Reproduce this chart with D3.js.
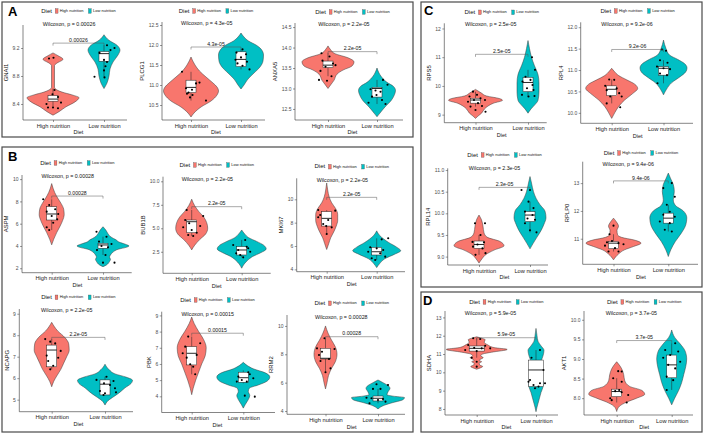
<!DOCTYPE html>
<html><head><meta charset="utf-8">
<script src="https://cdn.jsdelivr.net/npm/d3@7"></script>
<style>body{margin:0;background:#fff}svg{display:block}</style>
</head><body><svg id="c" width="708" height="436"></svg>
<script>
// ---------------- DATA ----------------
const groups = ["High nutrition", "Low nutrition"];
const colors = ["#F8766D", "#00BFC4"];
const legendTitle = "Diet";
const xTitle = "Diet";
const genes = ["GNAI1","PLCG1","ANXA5","ASPM","BUB1B","MKI67","NCAPG","PBK","RRM2","RPS5","RPL4","RPL14","RPLP0","SDHA","AKT1"];
const pValues = ["0.00026","4.3e-05","2.2e-05","0.00028","2.2e-05","2.2e-05","2.2e-05","0.00015","0.00028","2.5e-05","9.2e-06","2.3e-05","9.4e-06","5.9e-05","3.7e-05"];
const yTicks = [[8.4,8.8,9.2],[10.5,11,11.5,12,12.5],[12.5,13,13.5,14,14.5],[2,4,6,8,10],[2.5,5,7.5,10],[4,6,8,10],[5,6,7,8,9],[4,5,6,7,8,9],[4,6,8,10],[9,10,11,12],[10,10.5,11,11.5,12],[9,9.5,10,10.5,11],[11,12,13],[8,9,10,11,12,13],[8,8.5,9,9.5,10]];
const tickFormats = [".1f",".1f",".1f","d",".1f","d","d","d","d","d",".1f",".1f","d","d",".1f"];
const yDomains = [[8.171,9.529],[10.125,12.575],[12.23,14.6],[1.6,10.37],[0.21,10.49],[3.8,11.8],[4.44,9.22],[3.0,9.23],[3.77,10.77],[8.72,12.18],[9.755,12.115],[8.806,11.04],[10.08,13.77],[7.67,13.35],[7.571,10.224]];
const bracketValues = [9.27,11.95,13.9,8.48,7.3,10.17,7.9,7.9,9.24,11.1,11.48,10.6,13.08,11.89,9.47];

// violin density profiles: [value, half width] per group (High, Low)
const GNAI1_density = [
 [[8.24,0],[8.29,0.12],[8.36,0.26],[8.43,0.44],[8.49,0.52],[8.53,0.38],[8.57,0.18],[8.6,0.08],[8.64,0.03],[8.95,0.03],[8.98,0.07],[9.04,0.2],[9.09,0.1],[9.13,0]],
 [[8.62,0],[8.7,0.06],[8.8,0.1],[8.9,0.12],[9.0,0.18],[9.1,0.28],[9.17,0.32],[9.24,0.26],[9.31,0.1],[9.39,0]]];
const PLCG1_density = [
 [[10.2,0],[10.3,0.06],[10.45,0.2],[10.6,0.4],[10.75,0.52],[10.85,0.55],[10.95,0.52],[11.05,0.44],[11.2,0.3],[11.35,0.17],[11.5,0.08],[11.7,0]],
 [[10.9,0],[11.0,0.06],[11.15,0.14],[11.3,0.26],[11.45,0.38],[11.6,0.44],[11.75,0.45],[11.9,0.4],[12.0,0.3],[12.1,0.15],[12.2,0.06],[12.3,0]]];
const ANXA5_density = [
 [[13.0,0],[13.1,0.06],[13.2,0.12],[13.35,0.18],[13.45,0.3],[13.55,0.48],[13.65,0.52],[13.75,0.4],[13.85,0.14],[13.95,0.05],[14.04,0]],
 [[12.31,0],[12.4,0.06],[12.55,0.16],[12.7,0.28],[12.85,0.35],[12.95,0.37],[13.05,0.33],[13.15,0.2],[13.3,0.08],[13.5,0]]];
const ASPM_density = [
 [[4.1,0],[4.6,0.04],[5.2,0.1],[5.8,0.17],[6.3,0.22],[6.8,0.25],[7.3,0.24],[7.8,0.19],[8.3,0.12],[8.8,0.06],[9.6,0]],
 [[2.14,0],[2.3,0.07],[2.6,0.13],[2.8,0.15],[3.0,0.13],[3.2,0.15],[3.45,0.2],[3.7,0.3],[3.9,0.48],[4.0,0.52],[4.15,0.45],[4.35,0.32],[4.55,0.26],[4.8,0.16],[5.1,0.1],[5.4,0.06],[5.73,0]]];
const BUB1B_density = [
 [[2.7,0],[3.2,0.06],[3.8,0.16],[4.4,0.28],[5.0,0.32],[5.6,0.3],[6.2,0.24],[6.8,0.14],[7.4,0.06],[8.1,0]],
 [[0.75,0],[1.2,0.05],[1.6,0.12],[2.0,0.22],[2.4,0.38],[2.8,0.49],[3.2,0.44],[3.6,0.3],[4.0,0.14],[4.4,0.06],[4.82,0]]];
const MKI67_density = [
 [[5.7,0],[6.2,0.04],[6.7,0.08],[7.2,0.14],[7.7,0.19],[8.2,0.22],[8.7,0.22],[9.2,0.18],[9.7,0.1],[10.2,0.05],[10.8,0.02],[11.4,0]],
 [[4.15,0],[4.5,0.06],[4.9,0.16],[5.3,0.36],[5.6,0.48],[5.9,0.4],[6.3,0.24],[6.6,0.14],[6.9,0.06],[7.3,0]]];
const NCAPG_density = [
 [[5.6,0],[5.85,0.04],[6.1,0.1],[6.4,0.18],[6.7,0.24],[7.0,0.3],[7.3,0.35],[7.6,0.34],[7.9,0.26],[8.2,0.12],[8.6,0]],
 [[4.75,0],[4.95,0.06],[5.15,0.18],[5.35,0.3],[5.55,0.4],[5.75,0.52],[5.9,0.55],[6.05,0.42],[6.2,0.2],[6.4,0.08],[6.65,0]]];
const PBK_density = [
 [[4.1,0],[4.5,0.03],[5.0,0.08],[5.5,0.14],[6.0,0.2],[6.5,0.27],[7.0,0.29],[7.5,0.24],[8.0,0.14],[8.5,0.05],[8.9,0]],
 [[3.27,0],[3.5,0.04],[3.8,0.1],[4.05,0.13],[4.3,0.1],[4.5,0.12],[4.7,0.3],[4.95,0.48],[5.2,0.53],[5.45,0.44],[5.7,0.2],[5.9,0.08],[6.1,0]]];
const RRM2_density = [
 [[5.56,0],[6.0,0.03],[6.5,0.06],[7.0,0.12],[7.5,0.2],[8.0,0.23],[8.5,0.2],[9.0,0.12],[9.5,0.05],[10.0,0]],
 [[4.15,0],[4.4,0.12],[4.6,0.3],[4.8,0.5],[4.95,0.53],[5.05,0.3],[5.15,0.18],[5.35,0.2],[5.6,0.24],[5.8,0.2],[6.0,0.1],[6.19,0]]];
const RPS5_density = [
 [[8.87,0],[8.95,0.05],[9.05,0.12],[9.2,0.18],[9.3,0.25],[9.4,0.36],[9.5,0.54],[9.56,0.48],[9.65,0.22],[9.75,0.12],[9.88,0]],
 [[9.05,0],[9.2,0.06],[9.35,0.14],[9.5,0.2],[9.8,0.22],[10.1,0.22],[10.4,0.2],[10.7,0.13],[11.0,0.07],[11.3,0.03],[11.58,0]]];
const RPL4_density = [
 [[9.87,0],[10.0,0.06],[10.15,0.14],[10.3,0.26],[10.45,0.42],[10.57,0.52],[10.67,0.46],[10.77,0.3],[10.87,0.14],[10.97,0.05],[11.04,0]],
 [[10.42,0],[10.55,0.06],[10.7,0.16],[10.85,0.34],[10.95,0.44],[11.05,0.47],[11.15,0.42],[11.25,0.28],[11.35,0.12],[11.5,0.05],[11.7,0]]];
const RPL14_density = [
 [[8.85,0],[8.95,0.06],[9.05,0.14],[9.15,0.3],[9.25,0.5],[9.35,0.42],[9.45,0.16],[9.55,0.1],[9.7,0.08],[9.85,0.05],[9.96,0]],
 [[9.18,0],[9.3,0.06],[9.45,0.14],[9.6,0.22],[9.75,0.28],[9.9,0.32],[10.05,0.3],[10.2,0.2],[10.35,0.12],[10.5,0.07],[10.7,0.03],[10.85,0]]];
const RPLP0_density = [
 [[10.24,0],[10.45,0.1],[10.6,0.22],[10.72,0.4],[10.84,0.55],[10.95,0.42],[11.05,0.16],[11.15,0.08],[11.3,0.07],[11.45,0.1],[11.6,0.06],[11.74,0]],
 [[10.36,0],[10.6,0.05],[10.9,0.14],[11.2,0.26],[11.5,0.35],[11.75,0.37],[12.0,0.3],[12.2,0.14],[12.4,0.1],[12.7,0.12],[12.95,0.1],[13.15,0.05],[13.36,0]]];
const SDHA_density = [
 [[10.17,0],[10.25,0.08],[10.32,0.12],[10.4,0.06],[10.5,0.05],[10.58,0.1],[10.65,0.05],[10.72,0.08],[10.8,0.13],[10.9,0.08],[11.0,0.12],[11.1,0.3],[11.25,0.61],[11.35,0.35],[11.5,0.22],[11.65,0.15],[11.78,0.17],[11.88,0.08],[11.94,0]],
 [[7.85,0],[8.1,0.02],[8.3,0.04],[8.6,0.07],[8.9,0.1],[9.2,0.14],[9.45,0.15],[9.7,0.1],[10.0,0.06],[10.3,0.06],[10.6,0.1],[10.9,0.14],[11.2,0.16],[11.45,0.1],[11.7,0.04],[12.0,0.02],[12.4,0]]];
const AKT1_density = [
 [[7.66,0],[7.8,0.06],[7.9,0.2],[8.0,0.4],[8.1,0.56],[8.2,0.5],[8.3,0.26],[8.45,0.16],[8.6,0.14],[8.75,0.1],[8.85,0.05],[8.93,0]],
 [[7.83,0],[8.0,0.06],[8.2,0.14],[8.4,0.2],[8.6,0.24],[8.8,0.28],[9.0,0.3],[9.2,0.27],[9.4,0.16],[9.55,0.06],[9.74,0]]];

// box stats: [q1, median, q3, whisker low, whisker high]
const GNAI1_box = [[8.44,8.47,8.52,8.36,8.62],[9.01,9.12,9.15,8.79,9.24]];
const PLCG1_box = [[10.81,10.94,11.12,10.61,11.33],[11.46,11.64,11.83,11.39,11.89]];
const ANXA5_box = [[13.51,13.57,13.67,13.3,13.86],[12.79,13.0,13.03,12.62,13.21]];
const ASPM_box = [[6.33,6.87,7.52,5.43,8.19],[3.79,4.09,4.24,3.19,4.83]];
const BUB1B_box = [[4.53,5.7,5.88,4.18,6.95],[2.16,2.69,3.05,1.91,3.76]];
const MKI67_box = [[7.71,8.37,8.94,7.03,9.08],[5.23,5.51,5.89,4.8,6.66]];
const NCAPG_box = [[6.53,7.31,7.54,6.41,7.82],[5.22,5.72,5.92,5.22,6.07]];
const PBK_box = [[5.94,6.66,7.07,5.36,7.69],[4.87,5.15,5.49,4.8,5.6]];
const RRM2_box = [[7.67,7.72,8.42,6.73,9.13],[4.71,4.9,5.06,4.55,5.56]];
const RPS5_box = [[9.4,9.51,9.57,9.28,9.8],[9.8,10.12,10.3,9.63,10.56]];
const RPL4_box = [[10.4,10.55,10.63,10.22,10.78],[10.88,11.04,11.08,10.69,11.23]];
const RPL14_box = [[9.19,9.28,9.36,9.04,9.5],[9.81,9.96,10.04,9.56,10.27]];
const RPLP0_box = [[10.64,10.84,10.9,10.54,11.16],[11.56,11.74,11.92,11.26,12.22]];
const SDHA_box = [[11.16,11.31,11.44,10.8,11.86],[9.22,10.13,10.67,9.13,11.22]];
const AKT1_box = [[8.04,8.17,8.23,7.89,8.51],[8.52,8.85,9.1,8.21,9.4]];

// sample points: [value, horizontal jitter]
const GNAI1_points = [
 [[9.05,-0.08],[9.06,0.01],[8.6,0.03],[8.54,-0.01],[8.5,0.1],[8.4,-0.13],[8.35,0],[8.42,0.16],[8.35,-0.1],[8.34,0.1]],
 [[9.24,0.06],[9.2,0.21],[9.13,-0.09],[9.17,0.13],[9.03,0],[9.0,0.06],[8.94,0.03],[8.88,0],[8.79,-0.19],[8.78,0.01]]];
const PLCG1_points = [
 [[11.33,-0.18],[11.06,0.17],[10.92,-0.1],[10.88,0.02],[10.81,-0.05],[10.75,0.03],[10.69,-0.02],[11.04,0.1],[10.61,0.3],[10.78,-0.08]],
 [[11.89,0.03],[11.81,-0.09],[11.77,0.1],[11.69,0],[11.63,-0.11],[11.58,0.12],[11.39,0.17],[11.48,0.03],[11.54,-0.07]]];
const ANXA5_points = [
 [[13.86,-0.13],[13.78,0.03],[13.68,-0.11],[13.61,0.1],[13.53,-0.05],[13.57,0.15],[13.43,-0.15],[13.3,0.07],[13.21,-0.18],[13.19,-0.02]],
 [[13.21,0.12],[13.09,0.21],[12.98,-0.13],[12.95,-0.03],[12.92,0.07],[12.8,-0.1],[12.72,0.1],[12.65,-0.17],[12.62,0.17],[12.84,-0.01]]];
const ASPM_points = [
 [[8.19,-0.17],[7.68,-0.05],[7.29,0.07],[7.08,-0.1],[6.87,0.13],[6.69,0],[6.39,0.11],[6.09,0.03],[5.68,-0.1],[5.43,-0.05]],
 [[5.28,-0.13],[4.83,0.07],[4.39,-0.08],[4.18,0.17],[4.0,-0.03],[3.88,0.1],[3.64,-0.12],[3.19,0.05],[2.5,0],[2.5,0.23]]];
const BUB1B_points = [
 [[6.95,-0.1],[6.31,0.23],[5.88,-0.13],[5.53,-0.05],[5.25,0.17],[5.11,-0.17],[4.82,0],[4.53,0.1],[4.29,-0.07],[4.18,0.03]],
 [[3.76,0.07],[3.22,-0.17],[3.04,0.1],[2.69,-0.07],[2.51,0.17],[2.34,-0.11],[1.91,0.03],[2.16,-0.03],[2.87,0.13]]];
const MKI67_points = [
 [[9.08,-0.17],[9.03,0.17],[8.66,-0.13],[8.23,0.03],[7.89,-0.07],[7.71,-0.01],[7.6,0.1],[7.03,0],[8.46,-0.17]],
 [[6.57,0.1],[6.66,0.23],[5.89,-0.13],[5.8,0],[5.66,0.13],[5.51,-0.17],[5.37,0.07],[5.09,0.17],[4.95,-0.1],[4.8,-0.03]]];
const NCAPG_points = [
 [[7.82,-0.13],[7.7,-0.03],[7.62,0.07],[7.27,0.18],[7.05,-0.1],[6.95,0.13],[6.8,-0.07],[6.58,0.03],[6.41,-0.03]],
 [[6.07,0.03],[5.92,-0.17],[5.87,0.17],[5.76,-0.02],[5.68,0.1],[5.53,0.2],[5.4,-0.1],[5.3,0],[5.34,0.22],[5.22,-0.03]]];
const PBK_points = [
 [[7.69,-0.07],[7.28,0.17],[7.07,-0.13],[6.66,-0.18],[6.56,0.1],[6.39,-0.1],[5.98,-0.03],[5.83,0.03],[5.36,0.07]],
 [[5.49,0.1],[5.22,-0.1],[5.12,0.2],[5.01,-0.03],[4.91,0.07],[4.91,-0.13],[4.04,0.03],[3.98,0.23],[5.36,0.13]]];
const RRM2_points = [
 [[9.13,-0.02],[8.42,-0.17],[8.37,0.18],[8.18,-0.07],[7.95,-0.13],[7.67,0.07],[7.53,-0.1],[6.73,0],[7.01,0.1]],
 [[5.89,-0.03],[5.84,0.2],[5.56,-0.1],[5.56,0.05],[4.94,-0.23],[4.9,-0.13],[4.85,0.1],[4.66,0.15],[4.55,-0.17],[4.78,0]]];
const RPS5_points = [
 [[9.8,-0.05],[9.69,0.03],[9.63,-0.12],[9.57,0.1],[9.51,-0.03],[9.51,0.19],[9.45,-0.15],[9.4,0.05],[9.3,0.13],[9.28,-0.1],[9.16,0],[9.1,0.2]],
 [[11.0,0.08],[10.56,0.14],[10.32,-0.05],[10.21,0.05],[10.15,-0.11],[10.03,0.09],[9.92,-0.02],[9.86,0.11],[9.69,-0.12],[9.63,0.01],[9.65,0.13]]];
const RPL4_points = [
 [[10.78,-0.05],[10.77,0.05],[10.63,-0.13],[10.57,0.1],[10.53,-0.1],[10.46,0.15],[10.38,-0.03],[10.38,0.2],[10.22,-0.1],[10.13,0.17]],
 [[11.48,-0.03],[11.45,0.05],[11.23,-0.07],[11.17,0.08],[11.08,-0.13],[11.04,0],[11.02,0.13],[10.92,-0.07],[10.88,0.07],[10.69,-0.12]]];
const RPL14_points = [
 [[9.77,-0.08],[9.77,0.12],[9.5,0.03],[9.34,-0.13],[9.33,0.1],[9.28,-0.03],[9.23,-0.12],[9.19,0.07],[9.04,-0.07],[9.08,0.13]],
 [[10.54,-0.17],[10.54,0],[10.27,-0.03],[10.12,0.07],[10.04,-0.1],[9.96,0.05],[9.88,-0.05],[9.85,0.1],[9.77,-0.1],[9.61,0],[9.56,0.13]]];
const RPLP0_points = [
 [[11.47,0],[11.16,-0.08],[10.92,-0.03],[10.87,-0.13],[10.84,0.1],[10.8,0.2],[10.75,-0.17],[10.66,0.03],[10.54,-0.1],[10.54,0.1]],
 [[13.0,0.07],[12.82,-0.1],[12.51,0.13],[12.22,-0.03],[11.97,0.03],[11.86,-0.1],[11.79,0.13],[11.62,-0.17],[11.56,0.03],[11.32,-0.07],[11.26,0.07]]];
const SDHA_points = [
 [[11.86,-0.07],[11.82,0.07],[11.49,-0.17],[11.45,0.17],[11.34,-0.05],[11.31,0.1],[11.31,0.27],[11.22,-0.23],[11.16,0],[10.8,-0.1],[10.58,0],[10.31,0]],
 [[11.22,0.08],[10.8,-0.09],[10.13,0.15],[9.58,-0.12],[9.4,0.08],[9.31,-0.05],[9.4,0.18],[9.22,0.05],[9.13,-0.02],[9.49,-0.15]]];
const AKT1_points = [
 [[8.69,0.03],[8.68,0.1],[8.51,-0.07],[8.42,0.1],[8.21,0.05],[8.18,-0.03],[8.15,0.1],[8.08,0.23],[8.0,-0.13],[7.95,-0.1],[7.89,0.2]],
 [[9.4,0.07],[9.23,-0.13],[9.19,0.13],[9.1,-0.03],[9.03,-0.17],[8.93,0.17],[8.85,-0.07],[8.76,0.07],[8.55,-0.1],[8.46,0.03],[8.21,-0.1]]];

const densities = [GNAI1_density,PLCG1_density,ANXA5_density,ASPM_density,BUB1B_density,MKI67_density,NCAPG_density,PBK_density,RRM2_density,RPS5_density,RPL4_density,RPL14_density,RPLP0_density,SDHA_density,AKT1_density];
const boxStats = [GNAI1_box,PLCG1_box,ANXA5_box,ASPM_box,BUB1B_box,MKI67_box,NCAPG_box,PBK_box,RRM2_box,RPS5_box,RPL4_box,RPL14_box,RPLP0_box,SDHA_box,AKT1_box];
const pointSets = [GNAI1_points,PLCG1_points,ANXA5_points,ASPM_points,BUB1B_points,MKI67_points,NCAPG_points,PBK_points,RRM2_points,RPS5_points,RPL4_points,RPL14_points,RPLP0_points,SDHA_points,AKT1_points];

// ---------------- LAYOUT ----------------
const layout = [
 {ax:23, c1:53, c2:104, right:127, top:25, bottom:120, legY:11, wilY:25},
 {ax:162, c1:191, c2:241, right:265, top:22, bottom:120, legY:11, wilY:24},
 {ax:295, c1:328, c2:377, right:403, top:23, bottom:120, legY:12, wilY:25},
 {ax:22, c1:51.7, c2:103, right:131.7, top:175, bottom:272.7, legY:163, wilY:177},
 {ax:163, c1:191.7, c2:241.7, right:270.7, top:176.7, bottom:273.3, legY:165, wilY:179.3},
 {ax:296.7, c1:326.7, c2:376.7, right:405, top:178.3, bottom:271.7, legY:166.7, wilY:180.7},
 {ax:19.3, c1:51.7, c2:105, right:133, top:309, bottom:411.7, legY:297.3, wilY:310.7},
 {ax:161.7, c1:191.7, c2:243.3, right:275, top:311.7, bottom:412.5, legY:300, wilY:314.3},
 {ax:287, c1:325.5, c2:378, right:405, top:315, bottom:414.3, legY:303.3, wilY:317.3},
 {ax:444.3, c1:475.5, c2:528, right:546.7, top:23.3, bottom:122.7, legY:12.3, wilY:25},
 {ax:580.7, c1:611.7, c2:663.5, right:693, top:22.3, bottom:123.3, legY:11, wilY:25},
 {ax:447.7, c1:479, c2:530, right:548, top:168.3, bottom:265, legY:155, wilY:169},
 {ax:582.7, c1:613.5, c2:668.3, right:698, top:161.7, bottom:264.3, legY:153, wilY:165},
 {ax:445, c1:476.7, c2:536, right:558, top:311, bottom:415, legY:302, wilY:314, boxW:0.3},
 {ax:584, c1:616.7, c2:671.7, right:693, top:311, bottom:415, legY:302, wilY:314}
];
const frames = [
 {label:"A", x:2, y:2, w:411, h:135, lx:8, ly:16},
 {label:"B", x:2, y:147, w:411, h:285, lx:8, ly:161},
 {label:"C", x:421, y:2, w:281, h:285, lx:424, ly:15},
 {label:"D", x:421, y:292, w:281, h:140, lx:423, ly:305}
];

const FONT = '"Liberation Sans", Arial, Helvetica, sans-serif';
const svg = d3.select("#c").attr("font-family", FONT);
svg.append("rect").attr("width",708).attr("height",436).attr("fill","#fff");
const wScale = d3.scaleLinear().domain([0,1]).range([0,50]);

frames.forEach(f=>{
  svg.append("rect").attr("x",f.x).attr("y",f.y).attr("width",f.w).attr("height",f.h)
    .attr("fill","none").attr("stroke","#4a4a4a").attr("stroke-width",1.2);
  svg.append("text").attr("x",f.lx).attr("y",f.ly).attr("font-size",13).attr("font-weight","bold").text(f.label);
});

function drawPlot(i){
  const L = layout[i];
  const g = svg.append("g");
  const x = d3.scaleLinear().domain([1,2]).range([L.c1,L.c2]);
  const y = d3.scaleLinear().domain(yDomains[i]).range([L.bottom,L.top]);

  // violins
  densities[i].forEach((prof,k)=>{
    const cx = x(k+1);
    const area = d3.area().curve(d3.curveMonotoneY)
      .y(d=>y(d[0])).x0(d=>cx - wScale(d[1])).x1(d=>cx + wScale(d[1]));
    g.append("path").attr("d",area(prof)).attr("fill",colors[k])
      .attr("stroke","#3a3a3a").attr("stroke-width",0.5);
  });
  // boxes
  boxStats[i].forEach((b,k)=>{
    const cx = x(k+1), hw = wScale(L.boxW||0.2)/2;
    const [q1,med,q3,lo,hi] = b;
    g.append("line").attr("x1",cx).attr("x2",cx).attr("y1",y(lo)).attr("y2",y(q1)).attr("stroke","#222").attr("stroke-width",0.5);
    g.append("line").attr("x1",cx).attr("x2",cx).attr("y1",y(q3)).attr("y2",y(hi)).attr("stroke","#222").attr("stroke-width",0.5);
    g.append("rect").attr("x",cx-hw).attr("y",y(q3)).attr("width",2*hw).attr("height",Math.max(0.5,y(q1)-y(q3)))
      .attr("fill","#fff").attr("stroke","#222").attr("stroke-width",0.5);
    g.append("line").attr("x1",cx-hw).attr("x2",cx+hw).attr("y1",y(med)).attr("y2",y(med)).attr("stroke","#111").attr("stroke-width",0.9);
  });
  // points
  pointSets[i].forEach((arr,k)=>{
    const cx = x(k+1);
    g.append("g").selectAll("circle").data(arr).join("circle")
      .attr("cx",d=>cx+wScale(d[1])).attr("cy",d=>y(d[0])).attr("r",1.05).attr("fill","#000");
  });

  // y axis
  const yAxis = d3.axisLeft(y).tickValues(yTicks[i]).tickFormat(d3.format(tickFormats[i]))
    .tickSize(2).tickSizeOuter(0).tickPadding(1.5);
  const ya = g.append("g").attr("transform",`translate(${L.ax},0)`).call(yAxis);
  ya.attr("font-family",FONT);
  ya.select(".domain").remove();
  ya.selectAll("text").attr("font-size",5).attr("fill","#4d4d4d");
  ya.selectAll("line").attr("stroke","#333").attr("stroke-width",0.5);
  g.append("line").attr("x1",L.ax).attr("x2",L.ax).attr("y1",L.top).attr("y2",L.bottom).attr("stroke","#333").attr("stroke-width",0.6);
  let maxW = 0; ya.selectAll("text").each(function(){ maxW = Math.max(maxW,this.getComputedTextLength()); });
  g.append("text").attr("transform",`translate(${L.ax-3.5-maxW-4.5},${(L.top+L.bottom)/2}) rotate(-90)`)
    .attr("text-anchor","middle").attr("font-size",5.9).attr("fill","#111").text(genes[i]);

  // x axis
  const xAxis = d3.axisBottom(x).tickValues([1,2]).tickFormat(d=>groups[d-1]).tickSize(2).tickSizeOuter(0).tickPadding(1.5);
  const xa = g.append("g").attr("transform",`translate(0,${L.bottom})`).call(xAxis);
  xa.attr("font-family",FONT);
  xa.select(".domain").remove();
  xa.selectAll("text").attr("font-size",5.7).attr("fill","#222");
  xa.selectAll("line").attr("stroke","#333").attr("stroke-width",0.5);
  g.append("line").attr("x1",L.ax).attr("x2",L.right).attr("y1",L.bottom).attr("y2",L.bottom).attr("stroke","#333").attr("stroke-width",0.6);
  g.append("text").attr("x",x(1.5)).attr("y",L.bottom+13).attr("dominant-baseline","middle")
    .attr("text-anchor","middle").attr("font-size",5.5).attr("fill","#111").text(xTitle);

  // wilcoxon label
  g.append("text").attr("x",x(0.8)).attr("y",L.wilY).attr("dominant-baseline","middle")
    .attr("font-size",5.3).attr("fill","#111").text("Wilcoxon, p = " + pValues[i]);
  // bracket
  const yb = y(bracketValues[i]);
  g.append("path").attr("d",`M${x(1)},${yb+2.5}V${yb}H${x(2)}V${yb+2.5}`)
    .attr("fill","none").attr("stroke","#555").attr("stroke-width",0.5);
  g.append("text").attr("x",x(1.5)).attr("y",yb-1.3).attr("text-anchor","middle")
    .attr("font-size",5.2).attr("fill","#111").text(pValues[i]);

  // legend
  const lg = g.append("g");
  let cur = 0;
  const t0 = lg.append("text").attr("x",cur).attr("y",0).attr("dominant-baseline","middle").attr("font-size",6).attr("fill","#111").text(legendTitle);
  cur += t0.node().getComputedTextLength() + 3.3;
  groups.forEach((gname,k)=>{
    lg.append("rect").attr("x",cur).attr("y",-2.3).attr("width",2.8).attr("height",4.6)
      .attr("fill",colors[k]).attr("stroke","#444").attr("stroke-width",0.3);
    cur += 2.8 + 1.8;
    const t = lg.append("text").attr("x",cur).attr("y",0).attr("dominant-baseline","middle").attr("font-size",4).attr("fill","#111").text(gname);
    cur += t.node().getComputedTextLength() + 5;
  });
  cur -= 5;
  lg.attr("transform",`translate(${x(1.5)-cur/2},${L.legY})`);
}

genes.forEach((_,i)=>drawPlot(i));
</script></body></html>
